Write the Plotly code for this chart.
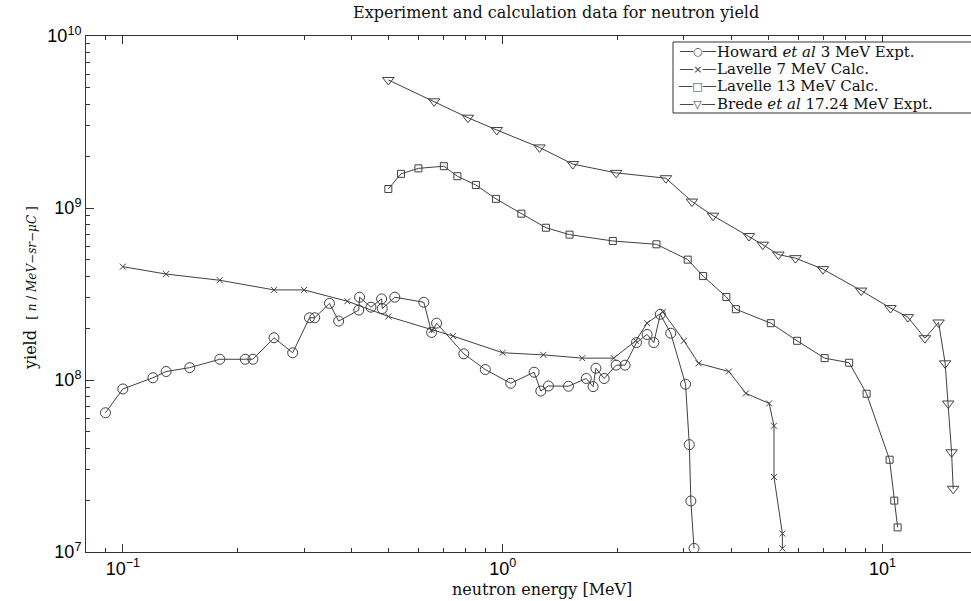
import plotly.graph_objects as go

# ---- data ----
howard_x = [0.090, 0.100, 0.120, 0.130, 0.150, 0.180, 0.210, 0.220, 0.250, 0.280,
            0.310, 0.320, 0.350, 0.370, 0.418, 0.420, 0.450, 0.480, 0.482, 0.520,
            0.620, 0.650, 0.670, 0.790, 0.900, 1.05, 1.21, 1.26, 1.32, 1.49,
            1.66, 1.73, 1.76, 1.85, 1.99, 2.10, 2.25, 2.40, 2.50, 2.60,
            2.77, 3.03, 3.10, 3.13, 3.19]
howard_y = [6.45e7, 8.87e7, 1.03e8, 1.12e8, 1.18e8, 1.32e8, 1.32e8, 1.32e8, 1.76e8, 1.44e8,
            2.30e8, 2.30e8, 2.79e8, 2.20e8, 2.55e8, 3.03e8, 2.65e8, 2.96e8, 2.60e8, 3.03e8,
            2.83e8, 1.89e8, 2.14e8, 1.42e8, 1.15e8, 9.57e7, 1.11e8, 8.63e7, 9.23e7, 9.20e7,
            1.02e8, 9.15e7, 1.17e8, 1.02e8, 1.22e8, 1.22e8, 1.65e8, 1.84e8, 1.65e8, 2.41e8,
            1.87e8, 9.45e7, 4.21e7, 1.98e7, 1.05e7]

lav7_x = [0.10, 0.13, 0.18, 0.25, 0.30, 0.39, 0.50, 0.65, 0.74, 1.00,
          1.28, 1.62, 1.96, 2.24, 2.40, 2.64, 3.00, 3.28, 3.94, 4.37,
          5.03, 5.18, 5.18, 5.45, 5.45]
lav7_y = [4.56e8, 4.13e8, 3.80e8, 3.34e8, 3.34e8, 2.87e8, 2.34e8, 1.95e8, 1.80e8, 1.44e8,
          1.40e8, 1.34e8, 1.34e8, 1.69e8, 2.14e8, 2.49e8, 1.69e8, 1.25e8, 1.12e8, 8.36e7,
          7.31e7, 5.42e7, 2.73e7, 1.28e7, 1.05e7]

lav13_x = [0.50, 0.54, 0.60, 0.70, 0.76, 0.85, 0.96, 1.12, 1.30, 1.50,
           1.95, 2.54, 3.07, 3.37, 3.88, 4.11, 5.08, 5.96, 7.04, 8.17,
           9.08, 10.44, 10.74, 10.96]
lav13_y = [1.29e9, 1.58e9, 1.70e9, 1.75e9, 1.53e9, 1.36e9, 1.13e9, 9.27e8, 7.68e8, 7.00e8,
           6.43e8, 6.15e8, 5.01e8, 4.02e8, 3.04e8, 2.58e8, 2.14e8, 1.69e8, 1.34e8, 1.26e8,
           8.32e7, 3.44e7, 1.99e7, 1.39e7]

brede_x = [0.50, 0.66, 0.81, 0.965, 1.25, 1.53, 1.99, 2.69, 3.15, 3.58,
           4.45, 4.84, 5.32, 5.90, 6.97, 8.79, 10.5, 11.66, 12.93, 14.05,
           14.62, 14.89, 15.2, 15.35]
brede_y = [5.55e9, 4.17e9, 3.35e9, 2.84e9, 2.25e9, 1.80e9, 1.60e9, 1.49e9, 1.09e9, 9.02e8,
           6.87e8, 6.12e8, 5.36e8, 5.11e8, 4.41e8, 3.31e8, 2.62e8, 2.32e8, 1.75e8, 2.16e8,
           1.25e8, 7.30e7, 3.80e7, 2.33e7]

series_names = ["Howard <i>et al</i> 3 MeV Expt.", "Lavelle 7 MeV Calc.",
                "Lavelle 13 MeV Calc.", "Brede <i>et al</i> 17.24 MeV Expt."]
legend_glyphs = ["──○──", "──×──", "──□──", "──▽──"]

x_tickvals = [0.1, 1, 10]
x_ticktext = ["10<sup>−1</sup>", "10<sup>0</sup>", "10<sup>1</sup>"]
y_tickvals = [1e7, 1e8, 1e9, 1e10]
y_ticktext = ["10<sup>7</sup>", "10<sup>8</sup>", "10<sup>9</sup>", "10<sup>10</sup>"]

x_minor = [m * 10.0 ** e for e in (-2, -1, 0, 1) for m in range(2, 10)]
y_minor = [m * 10.0 ** e for e in (7, 8, 9) for m in range(2, 10)]

LINE = "#404040"
SERIF = "DejaVu Serif"
SANS = "Liberation Sans"

fig = go.Figure()
styles = [("circle-open", 10), ("x-thin-open", 6), ("square-open", 7), ("triangle-down-open", 10)]
for (xs, ys), name, (sym, sz) in zip(
        [(howard_x, howard_y), (lav7_x, lav7_y), (lav13_x, lav13_y), (brede_x, brede_y)],
        series_names, styles):
    fig.add_trace(go.Scatter(
        x=xs, y=ys, mode="lines+markers", name=name, showlegend=False,
        line=dict(color=LINE, width=1),
        marker=dict(symbol=sym, size=sz, color=LINE, line=dict(color=LINE, width=1)),
    ))

axis_common = dict(
    type="log", showline=True, linecolor="#333", linewidth=1,
    ticks="inside", ticklen=8, tickwidth=1, tickcolor="#333",
    showgrid=False, zeroline=False,
    tickfont=dict(family=SANS, size=18, color="#000"),
)
fig.update_xaxes(**axis_common, range=[-1.097, 1.233], mirror="ticks",
                 tickmode="array", tickvals=x_tickvals, ticktext=x_ticktext,
                 minor=dict(tickmode="array", tickvals=x_minor, ticks="inside",
                            ticklen=4, tickcolor="#333", showgrid=False))
fig.update_yaxes(**axis_common, range=[7, 10], mirror=False,
                 tickmode="array", tickvals=y_tickvals, ticktext=y_ticktext,
                 minor=dict(tickmode="array", tickvals=y_minor, ticks="inside",
                            ticklen=4, tickcolor="#333", showgrid=False))

L, R, T, B = 86, 0, 36, 49
W, H = 971, 601
pw, ph = W - L - R, H - T - B

def px(xp):
    return (xp - L) / pw

def py(yp):
    return (H - B - yp) / ph

annotations = [
    dict(text="Experiment and calculation data for neutron yield", x=px(556), y=py(13),
         xref="paper", yref="paper", xanchor="center", yanchor="middle", showarrow=False,
         font=dict(family=SERIF, size=16, color="#111")),
    dict(text="neutron energy [MeV]", x=px(542), y=py(589),
         xref="paper", yref="paper", xanchor="center", yanchor="middle", showarrow=False,
         font=dict(family=SERIF, size=16, color="#111")),
    dict(text="yield  <span style='font-size:12px'>[ <i>n</i> / <i>MeV−sr−μC</i> ]</span>",
         x=px(30), y=py(288), textangle=-90,
         xref="paper", yref="paper", xanchor="center", yanchor="middle", showarrow=False,
         font=dict(family=SERIF, size=16, color="#111")),
]
row_y = [51.5, 69, 86.5, 104]
for name, glyph, ry in zip(series_names, legend_glyphs, row_y):
    annotations.append(dict(text=glyph, x=px(697), y=py(ry), xref="paper", yref="paper",
                            xanchor="center", yanchor="middle", showarrow=False,
                            font=dict(family="DejaVu Sans", size=11, color=LINE)))
    annotations.append(dict(text=name, x=px(715), y=py(ry), xref="paper", yref="paper",
                            xanchor="left", yanchor="middle", showarrow=False,
                            font=dict(family=SERIF, size=15, color="#111")))

fig.update_layout(
    width=W, height=H, margin=dict(l=L, r=R, t=T, b=B, pad=0),
    plot_bgcolor="white", paper_bgcolor="white",
    annotations=annotations,
    shapes=[dict(type="rect", xref="paper", yref="paper",
                 x0=px(673), x1=px(990), y0=py(113), y1=py(42),
                 line=dict(color="#333", width=1), fillcolor="white", layer="above")],
)
fig.write_html("out.html")
